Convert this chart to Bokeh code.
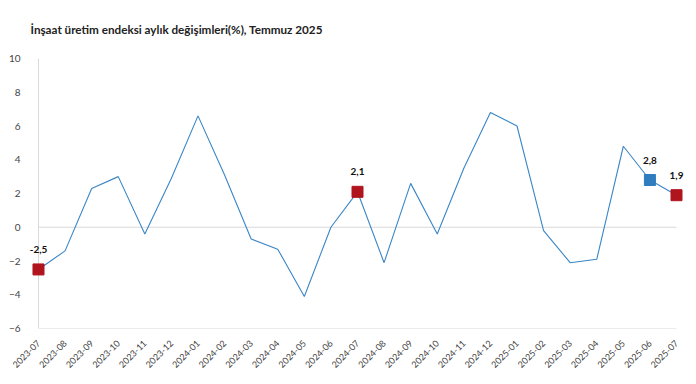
from bokeh.plotting import figure
from bokeh.models import ColumnDataSource, FixedTicker, Range1d
from bokeh.core.properties import value
from bokeh.embed import file_html
from bokeh.resources import INLINE

months = ["2023-07", "2023-08", "2023-09", "2023-10", "2023-11", "2023-12",
          "2024-01", "2024-02", "2024-03", "2024-04", "2024-05", "2024-06",
          "2024-07", "2024-08", "2024-09", "2024-10", "2024-11", "2024-12",
          "2025-01", "2025-02", "2025-03", "2025-04", "2025-05", "2025-06",
          "2025-07"]
values = [-2.5, -1.4, 2.3, 3.0, -0.4, 2.9,
          6.6, 3.1, -0.7, -1.3, -4.1, 0.0,
          2.1, -2.1, 2.6, -0.4, 3.5, 6.8,
          6.0, -0.2, -2.1, -1.9, 4.8, 2.8,
          1.9]
red_months = ["2023-07", "2024-07", "2025-07"]
blue_months = ["2025-06"]
y_ticks = [-6, -4, -2, 0, 2, 4, 6, 8, 10]
title_text = "İnşaat üretim endeksi aylık değişimleri(%), Temmuz 2025"

FONT = "Lato"
LINE_C = "#3A86C6"
RED = "#B0141C"
BLUE = "#2F7DBE"
GRID = "#D9D9D9"

xs = list(range(len(months)))
n = len(months) - 1

p = figure(width=690, height=376, output_backend="svg", toolbar_location=None,
           x_range=Range1d(-0.376, n + 0.376), y_range=Range1d(-6, 10),
           min_border_left=28, min_border_right=4, min_border_top=0,
           min_border_bottom=48)
p.title.text = title_text
p.title.text_font = FONT
p.title.text_font_size = "11.7px"
p.title.text_font_style = "bold"
p.title.text_color = "#222222"
p.title.offset = 2
p.title.vertical_align = "top"
p.title.standoff = 42

p.outline_line_color = None
p.xgrid.visible = False
p.ygrid.visible = False
p.background_fill_color = "white"
p.border_fill_color = "white"

# reference lines: left axis, zero line, bottom axis
p.segment(x0=[0, 0, 0], y0=[-6, 0, -6], x1=[0, n, n], y1=[10, 0, -6],
          line_color=GRID, line_width=1)

p.line(xs, values, line_color=LINE_C, line_width=1.1)

def pts(sel):
    idx = [months.index(m) for m in sel]
    return ColumnDataSource(dict(
        x=idx, y=[values[i] for i in idx],
        lab=[f"{values[i]:.1f}".replace(".", ",") for i in idx]))

for sel, col in ((red_months, RED), (blue_months, BLUE)):
    src = pts(sel)
    p.scatter("x", "y", source=src, marker="square", size=11,
              fill_color=col, line_color=col, level="overlay")
    p.text("x", "y", text="lab", source=src, text_font=value(FONT),
           text_font_size="10px", text_font_style="bold", text_color="#111111",
           text_align="center", text_baseline="middle", y_offset=-20)

p.xaxis.ticker = FixedTicker(ticks=xs)
p.xaxis.major_label_overrides = {i: m for i, m in enumerate(months)}
p.xaxis.major_label_orientation = 0.785398
p.xaxis.axis_line_color = None
p.xaxis.major_tick_line_color = None
p.xaxis.minor_tick_line_color = None
p.xaxis.major_label_standoff = 7
p.xaxis.major_label_text_font = FONT
p.xaxis.major_label_text_font_size = "9px"
p.xaxis.major_label_text_color = "#444444"

p.yaxis.ticker = FixedTicker(ticks=y_ticks)
p.yaxis.axis_line_color = None
p.yaxis.major_tick_line_color = None
p.yaxis.minor_tick_line_color = None
p.yaxis.major_label_standoff = 2
p.yaxis.major_label_text_font = FONT
p.yaxis.major_label_text_font_size = "10px"
p.yaxis.major_label_text_color = "#444444"

open("out.html", "w").write(file_html(p, INLINE))
